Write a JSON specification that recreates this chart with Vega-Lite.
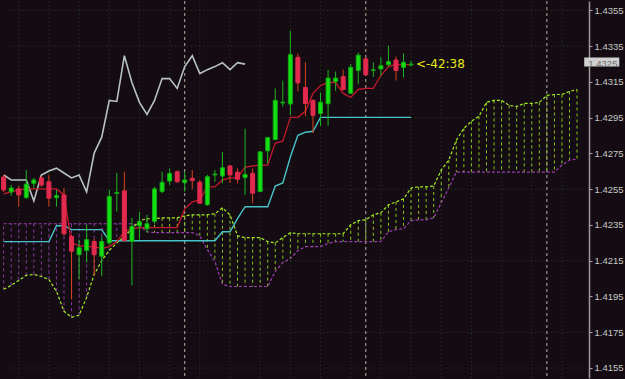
{
  "$schema": "https://vega.github.io/schema/vega-lite/v6.json",
  "width": 625,
  "height": 379,
  "autosize": {"type": "fit", "contains": "padding"},
  "padding": 0,
  "background": "#140c12",
  "config": {
    "view": {"stroke": null},
    "axisY": {
      "title": null, "grid": false, "format": ".4f", "tickCount": 30,
      "labelFont": "Liberation Sans", "labelFontSize": 9.5, "labelColor": "#c4c8c8",
      "labelPadding": 2, "labelOverlap": false, "labelFlush": false, "labelBound": false, "labelSeparation": 0,
      "tickColor": "#a8a8a8", "tickSize": 3, "tickWidth": 1,
      "domainColor": "#9a9a9a", "domainWidth": 1.5,
      "minExtent": 36, "maxExtent": 36
    }
  },
  "datasets": {
    "bars": [
      {"i":-1,"open":1.42618,"high":1.42630,"low":1.42535,"close":1.42546,"tenkan":1.42524,"kijun":1.42257,"chikou":1.42630,"spanA":1.41990,"spanB":1.42357},
      {"i":0,"open":1.42535,"high":1.42574,"low":1.42513,"close":1.42557,"tenkan":1.42535,"kijun":1.42257,"chikou":1.42602,"spanA":1.42012,"spanB":1.42357},
      {"i":1,"open":1.42552,"high":1.42568,"low":1.42452,"close":1.42518,"tenkan":1.42546,"kijun":1.42257,"chikou":1.42602,"spanA":1.42040,"spanB":1.42357},
      {"i":2,"open":1.42503,"high":1.42657,"low":1.42496,"close":1.42579,"tenkan":1.42552,"kijun":1.42257,"chikou":1.42602,"spanA":1.42068,"spanB":1.42357},
      {"i":3,"open":1.42583,"high":1.42613,"low":1.42557,"close":1.42602,"tenkan":1.42552,"kijun":1.42257,"chikou":1.42485,"spanA":1.42073,"spanB":1.42357},
      {"i":4,"open":1.42613,"high":1.42624,"low":1.42563,"close":1.42574,"tenkan":1.42552,"kijun":1.42257,"chikou":1.42630,"spanA":1.42062,"spanB":1.42357},
      {"i":5,"open":1.42592,"high":1.42630,"low":1.42453,"close":1.42500,"tenkan":1.42552,"kijun":1.42257,"chikou":1.42652,"spanA":1.42045,"spanB":1.42357},
      {"i":6,"open":1.42503,"high":1.42546,"low":1.42453,"close":1.42514,"tenkan":1.42552,"kijun":1.42346,"chikou":1.42668,"spanA":1.41979,"spanB":1.42357},
      {"i":7,"open":1.42518,"high":1.42557,"low":1.42290,"close":1.42301,"tenkan":1.42518,"kijun":1.42346,"chikou":1.42641,"spanA":1.41867,"spanB":1.42357},
      {"i":8,"open":1.42286,"high":1.42296,"low":1.41934,"close":1.42203,"tenkan":1.42250,"kijun":1.42324,"chikou":1.42613,"spanA":1.41834,"spanB":1.42357},
      {"i":9,"open":1.42184,"high":1.42268,"low":1.42045,"close":1.42223,"tenkan":1.42235,"kijun":1.42324,"chikou":1.42630,"spanA":1.41845,"spanB":1.42357},
      {"i":10,"open":1.42207,"high":1.42351,"low":1.42140,"close":1.42268,"tenkan":1.42229,"kijun":1.42324,"chikou":1.42535,"spanA":1.41945,"spanB":1.42357},
      {"i":11,"open":1.42258,"high":1.42273,"low":1.42068,"close":1.42184,"tenkan":1.42229,"kijun":1.42324,"chikou":1.42752,"spanA":1.42073,"spanB":1.42357},
      {"i":12,"open":1.42175,"high":1.42286,"low":1.42064,"close":1.42258,"tenkan":1.42218,"kijun":1.42324,"chikou":1.42841,"spanA":1.42151,"spanB":1.42357},
      {"i":13,"open":1.42250,"high":1.42546,"low":1.42240,"close":1.42509,"tenkan":1.42229,"kijun":1.42262,"chikou":1.43047,"spanA":1.42207,"spanB":1.42357},
      {"i":14,"open":1.42527,"high":1.42641,"low":1.42425,"close":1.42532,"tenkan":1.42257,"kijun":1.42262,"chikou":1.43041,"spanA":1.42250,"spanB":1.42357},
      {"i":15,"open":1.42541,"high":1.42648,"low":1.42259,"close":1.42262,"tenkan":1.42312,"kijun":1.42262,"chikou":1.43297,"spanA":1.42285,"spanB":1.42357},
      {"i":16,"open":1.42258,"high":1.42390,"low":1.42012,"close":1.42342,"tenkan":1.42329,"kijun":1.42262,"chikou":1.43147,"spanA":1.42329,"spanB":1.42357},
      {"i":17,"open":1.42346,"high":1.42424,"low":1.42268,"close":1.42368,"tenkan":1.42335,"kijun":1.42262,"chikou":1.43036,"spanA":1.42374,"spanB":1.42346},
      {"i":18,"open":1.42329,"high":1.42407,"low":1.42307,"close":1.42357,"tenkan":1.42335,"kijun":1.42262,"chikou":1.42969,"spanA":1.42385,"spanB":1.42312},
      {"i":19,"open":1.42370,"high":1.42563,"low":1.42357,"close":1.42552,"tenkan":1.42335,"kijun":1.42262,"chikou":1.43047,"spanA":1.42385,"spanB":1.42307},
      {"i":20,"open":1.42537,"high":1.42648,"low":1.42528,"close":1.42589,"tenkan":1.42335,"kijun":1.42262,"chikou":1.43169,"spanA":1.42390,"spanB":1.42307},
      {"i":21,"open":1.42596,"high":1.42667,"low":1.42574,"close":1.42639,"tenkan":1.42335,"kijun":1.42262,"chikou":1.43169,"spanA":1.42390,"spanB":1.42307},
      {"i":22,"open":1.42648,"high":1.42655,"low":1.42587,"close":1.42592,"tenkan":1.42335,"kijun":1.42262,"chikou":1.43114,"spanA":1.42390,"spanB":1.42307},
      {"i":23,"open":1.42587,"high":1.42648,"low":1.42537,"close":1.42602,"tenkan":1.42440,"kijun":1.42262,"chikou":1.43236,"spanA":1.42401,"spanB":1.42307},
      {"i":24,"open":1.42611,"high":1.42657,"low":1.42550,"close":1.42598,"tenkan":1.42479,"kijun":1.42262,"chikou":1.43297,"spanA":1.42407,"spanB":1.42307},
      {"i":25,"open":1.42589,"high":1.42602,"low":1.42468,"close":1.42472,"tenkan":1.42490,"kijun":1.42262,"chikou":1.43197,"spanA":1.42407,"spanB":1.42290},
      {"i":26,"open":1.42463,"high":1.42630,"low":1.42457,"close":1.42620,"tenkan":1.42563,"kijun":1.42262,"chikou":1.43219,"spanA":1.42407,"spanB":1.42212},
      {"i":27,"open":1.42630,"high":1.42657,"low":1.42592,"close":1.42635,"tenkan":1.42563,"kijun":1.42262,"chikou":1.43236,"spanA":1.42413,"spanB":1.42146},
      {"i":28,"open":1.42624,"high":1.42759,"low":1.42583,"close":1.42670,"tenkan":1.42602,"kijun":1.42312,"chikou":1.43258,"spanA":1.42446,"spanB":1.42018},
      {"i":29,"open":1.42680,"high":1.42685,"low":1.42585,"close":1.42630,"tenkan":1.42613,"kijun":1.42312,"chikou":1.43219,"spanA":1.42407,"spanB":1.42006},
      {"i":30,"open":1.42645,"high":1.42667,"low":1.42583,"close":1.42606,"tenkan":1.42613,"kijun":1.42385,"chikou":1.43258,"spanA":1.42290,"spanB":1.42006},
      {"i":31,"open":1.42615,"high":1.42889,"low":1.42518,"close":1.42633,"tenkan":1.42674,"kijun":1.42452,"chikou":1.43250,"spanA":1.42279,"spanB":1.42006},
      {"i":32,"open":1.42639,"high":1.42667,"low":1.42472,"close":1.42528,"tenkan":1.42680,"kijun":1.42452,"spanA":1.42279,"spanB":1.42006},
      {"i":33,"open":1.42537,"high":1.42763,"low":1.42535,"close":1.42759,"tenkan":1.42685,"kijun":1.42452,"spanA":1.42279,"spanB":1.42006},
      {"i":34,"open":1.42765,"high":1.42843,"low":1.42695,"close":1.42839,"tenkan":1.42685,"kijun":1.42452,"spanA":1.42257,"spanB":1.42006},
      {"i":35,"open":1.42828,"high":1.43114,"low":1.42824,"close":1.43047,"tenkan":1.42808,"kijun":1.42568,"spanA":1.42250,"spanB":1.42090},
      {"i":36,"open":1.43033,"high":1.43158,"low":1.43013,"close":1.43037,"tenkan":1.42819,"kijun":1.42585,"spanA":1.42279,"spanB":1.42140},
      {"i":37,"open":1.43027,"high":1.43436,"low":1.42963,"close":1.43303,"tenkan":1.42952,"kijun":1.42730,"spanA":1.42307,"spanB":1.42162},
      {"i":38,"open":1.43288,"high":1.43310,"low":1.43098,"close":1.43145,"tenkan":1.42952,"kijun":1.42852,"spanA":1.42301,"spanB":1.42207},
      {"i":39,"open":1.43119,"high":1.43260,"low":1.42958,"close":1.43030,"tenkan":1.42986,"kijun":1.42869,"spanA":1.42301,"spanB":1.42229},
      {"i":40,"open":1.43047,"high":1.43052,"low":1.42863,"close":1.42963,"tenkan":1.43086,"kijun":1.42874,"spanA":1.42301,"spanB":1.42229},
      {"i":41,"open":1.42973,"high":1.43091,"low":1.42902,"close":1.43037,"tenkan":1.43130,"kijun":1.42952,"spanA":1.42301,"spanB":1.42229},
      {"i":42,"open":1.43028,"high":1.43218,"low":1.42905,"close":1.43172,"tenkan":1.43147,"kijun":1.42952,"spanA":1.42301,"spanB":1.42246},
      {"i":43,"open":1.43152,"high":1.43208,"low":1.43100,"close":1.43172,"tenkan":1.43147,"kijun":1.42952,"spanA":1.42301,"spanB":1.42257},
      {"i":44,"open":1.43180,"high":1.43219,"low":1.43102,"close":1.43108,"tenkan":1.43086,"kijun":1.42952,"spanA":1.42301,"spanB":1.42257},
      {"i":45,"open":1.43087,"high":1.43251,"low":1.43083,"close":1.43232,"tenkan":1.43063,"kijun":1.42952,"spanA":1.42351,"spanB":1.42257},
      {"i":46,"open":1.43214,"high":1.43315,"low":1.43140,"close":1.43300,"tenkan":1.43108,"kijun":1.42952,"spanA":1.42374,"spanB":1.42257},
      {"i":47,"open":1.43279,"high":1.43286,"low":1.43183,"close":1.43191,"tenkan":1.43114,"kijun":1.42952,"spanA":1.42379,"spanB":1.42257},
      {"i":48,"open":1.43215,"high":1.43260,"low":1.43179,"close":1.43218,"tenkan":1.43114,"kijun":1.42952,"spanA":1.42407,"spanB":1.42257},
      {"i":49,"open":1.43223,"high":1.43288,"low":1.43186,"close":1.43241,"tenkan":1.43186,"kijun":1.42952,"spanA":1.42418,"spanB":1.42257},
      {"i":50,"open":1.43247,"high":1.43353,"low":1.43236,"close":1.43264,"tenkan":1.43236,"kijun":1.42952,"spanA":1.42463,"spanB":1.42312},
      {"i":51,"open":1.43273,"high":1.43292,"low":1.43158,"close":1.43214,"tenkan":1.43247,"kijun":1.42952,"spanA":1.42479,"spanB":1.42324},
      {"i":52,"open":1.43232,"high":1.43310,"low":1.43176,"close":1.43260,"tenkan":1.43247,"kijun":1.42952,"spanA":1.42496,"spanB":1.42329},
      {"i":53,"open":1.43246,"high":1.43269,"low":1.43236,"close":1.43250,"tenkan":1.43247,"kijun":1.42952,"spanA":1.42557,"spanB":1.42374},
      {"i":54,"spanA":1.42563,"spanB":1.42379},
      {"i":55,"spanA":1.42563,"spanB":1.42379},
      {"i":56,"spanA":1.42568,"spanB":1.42390},
      {"i":57,"spanA":1.42657,"spanB":1.42474},
      {"i":58,"spanA":1.42713,"spanB":1.42557},
      {"i":59,"spanA":1.42824,"spanB":1.42646},
      {"i":60,"spanA":1.42891,"spanB":1.42646},
      {"i":61,"spanA":1.42930,"spanB":1.42646},
      {"i":62,"spanA":1.42958,"spanB":1.42646},
      {"i":63,"spanA":1.43036,"spanB":1.42646},
      {"i":64,"spanA":1.43047,"spanB":1.42646},
      {"i":65,"spanA":1.43047,"spanB":1.42646},
      {"i":66,"spanA":1.43019,"spanB":1.42646},
      {"i":67,"spanA":1.43013,"spanB":1.42646},
      {"i":68,"spanA":1.43030,"spanB":1.42646},
      {"i":69,"spanA":1.43030,"spanB":1.42646},
      {"i":70,"spanA":1.43036,"spanB":1.42646},
      {"i":71,"spanA":1.43075,"spanB":1.42646},
      {"i":72,"spanA":1.43080,"spanB":1.42646},
      {"i":73,"spanA":1.43080,"spanB":1.42685},
      {"i":74,"spanA":1.43097,"spanB":1.42713},
      {"i":75,"spanA":1.43108,"spanB":1.42719}
    ],
    "hgrid": [{"p":1.4355},{"p":1.4335},{"p":1.4295},{"p":1.4255},{"p":1.4215},{"p":1.4175},{"p":1.4155}],
    "vgrid": [{"i":1},{"i":5},{"i":9},{"i":13},{"i":17},{"i":21},{"i":25},{"i":29},{"i":33},{"i":37},{"i":41},{"i":45},{"i":49},{"i":53},{"i":57},{"i":61},{"i":65},{"i":69},{"i":73}],
    "sep": [{"i":23},{"i":47},{"i":71}],
    "last": [{"price":1.4325,"label":"1.4325","timer":"<-42:38"}]
  },
  "data": {"name": "bars"},
  "layer": [
    {
      "data": {"name": "hgrid"},
      "mark": {"type": "rule", "color": "#224222", "strokeDash": [1, 3], "strokeWidth": 1},
      "encoding": {
        "x": {"datum": 0, "type": "quantitative", "scale": {"domain": [-0.8208, 75.922], "nice": false, "zero": false}, "axis": null},
        "x2": {"datum": 75.922},
        "y": {"field": "p", "type": "quantitative", "title": null,
          "scale": {"domain": [1.41494, 1.43603], "nice": false, "zero": false},
          "axis": {"orient": "right", "labelOverlap": false, "tickCount": 30,
            "values": [1.4155, 1.4175, 1.4195, 1.4215, 1.4235, 1.4255, 1.4275, 1.4295, 1.4315, 1.4335, 1.4355]}}
      }
    },
    {
      "data": {"name": "vgrid"},
      "mark": {"type": "rule", "color": "#224222", "strokeDash": [1, 3], "strokeWidth": 1},
      "encoding": {
        "x": {"field": "i", "type": "quantitative", "axis": null}
      }
    },
    {
      "data": {"name": "sep"},
      "mark": {"type": "rule", "color": "#b4b4a4", "strokeDash": [3, 3], "strokeWidth": 1},
      "encoding": {
        "x": {"field": "i", "type": "quantitative", "axis": null}
      }
    },
    {
      "mark": {"type": "rule", "strokeDash": [3, 3], "strokeWidth": 1, "clip": true},
      "encoding": {
        "x": {"field": "i", "type": "quantitative", "axis": null},
        "y": {"field": "spanA", "type": "quantitative", "title": null},
        "y2": {"field": "spanB"},
        "color": {"condition": {"test": "datum.spanA >= datum.spanB", "value": "#86c81e"}, "value": "#8a3aa2"}
      }
    },
    {
      "mark": {"type": "line", "color": "#9c3cb0", "strokeDash": [3, 2], "strokeWidth": 1.2, "clip": true},
      "encoding": {
        "x": {"field": "i", "type": "quantitative", "axis": null},
        "y": {"field": "spanB", "type": "quantitative", "title": null}
      }
    },
    {
      "mark": {"type": "line", "color": "#a4ec24", "strokeDash": [3, 2], "strokeWidth": 1.2, "clip": true},
      "encoding": {
        "x": {"field": "i", "type": "quantitative", "axis": null},
        "y": {"field": "spanA", "type": "quantitative", "title": null}
      }
    },
    {
      "mark": {"type": "line", "color": "#b8c2c2", "strokeWidth": 1.6, "clip": true},
      "encoding": {
        "x": {"field": "i", "type": "quantitative", "axis": null},
        "y": {"field": "chikou", "type": "quantitative", "title": null}
      }
    },
    {
      "mark": {"type": "line", "color": "#48c4c8", "strokeWidth": 1.4, "clip": true},
      "encoding": {
        "x": {"field": "i", "type": "quantitative", "axis": null},
        "y": {"field": "kijun", "type": "quantitative", "title": null}
      }
    },
    {
      "mark": {"type": "line", "color": "#c41a2c", "strokeWidth": 1.3, "clip": true},
      "encoding": {
        "x": {"field": "i", "type": "quantitative", "axis": null},
        "y": {"field": "tenkan", "type": "quantitative", "title": null}
      }
    },
    {
      "mark": {"type": "rule", "strokeWidth": 1, "clip": true},
      "encoding": {
        "x": {"field": "i", "type": "quantitative", "axis": null},
        "y": {"field": "high", "type": "quantitative", "title": null},
        "y2": {"field": "low"},
        "color": {"condition": {"test": "datum.close >= datum.open", "value": "#1fb51f"}, "value": "#d8431c"}
      }
    },
    {
      "mark": {"type": "bar", "size": 4, "strokeWidth": 1, "clip": true},
      "encoding": {
        "x": {"field": "i", "type": "quantitative", "axis": null},
        "y": {"field": "open", "type": "quantitative", "title": null},
        "y2": {"field": "close"},
        "fill": {"condition": {"test": "datum.close >= datum.open", "value": "#14e014"}, "value": "#e22a4e"},
        "stroke": {"condition": {"test": "datum.close >= datum.open", "value": "#12a812"}, "value": "#e22a4e"}
      }
    },
    {
      "data": {"name": "last"},
      "mark": {"type": "text", "align": "left", "baseline": "middle", "font": "DejaVu Sans", "fontSize": 12, "color": "#e8e81a"},
      "encoding": {
        "x": {"datum": 53.64, "type": "quantitative", "axis": null},
        "y": {"field": "price", "type": "quantitative", "title": null},
        "text": {"field": "timer"}
      }
    },
    {
      "data": {"name": "last"},
      "mark": {"type": "rect", "color": "#d0d0d0"},
      "encoding": {
        "x": {"datum": 75.95, "type": "quantitative", "axis": null},
        "x2": {"datum": 80.6},
        "y": {"datum": 1.43287, "type": "quantitative", "title": null},
        "y2": {"datum": 1.43236}
      }
    },
    {
      "data": {"name": "last"},
      "mark": {"type": "text", "align": "left", "baseline": "middle", "font": "Liberation Sans", "fontSize": 9.5, "color": "#6a6a6a"},
      "encoding": {
        "x": {"datum": 76.5, "type": "quantitative", "axis": null},
        "y": {"field": "price", "type": "quantitative", "title": null},
        "text": {"field": "label"}
      }
    }
  ]
}
